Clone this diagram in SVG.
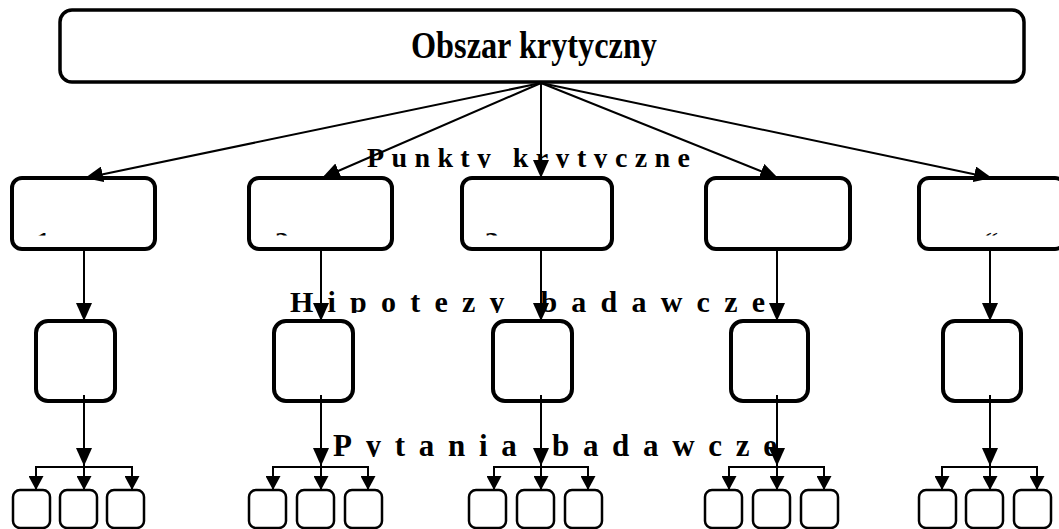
<svg xmlns="http://www.w3.org/2000/svg" width="1059" height="529" viewBox="0 0 1059 529">
<style>
.big{fill:#fff;stroke:#000;stroke-width:3.5}
.mid{fill:#fff;stroke:#000;stroke-width:4}
.sm{fill:#fff;stroke:#000;stroke-width:2.5}
.t{font-family:"Liberation Serif","Times New Roman",serif;font-weight:bold;fill:#000}
.c{stroke:#000;stroke-width:2;fill:none}
</style>
<defs>
<marker id="ah" markerUnits="userSpaceOnUse" markerWidth="19" markerHeight="16" refX="18" refY="8" orient="auto"><path d="M0,0 L18,8 L0,16 z" fill="#000"/></marker>
<marker id="as" markerUnits="userSpaceOnUse" markerWidth="15" markerHeight="15" refX="14" refY="7.5" orient="auto"><path d="M0,0 L14,7.5 L0,15 z" fill="#000"/></marker>
<clipPath id="cl1"><rect x="0" y="0" width="1059" height="168"/></clipPath>
<clipPath id="cl2"><rect x="0" y="0" width="1059" height="313"/></clipPath>
<clipPath id="cl3"><rect x="0" y="0" width="1059" height="457"/></clipPath>
<clipPath id="cln"><rect x="0" y="0" width="1059" height="235.5"/></clipPath>
</defs>

<g id="root">
<rect class="big" x="60" y="10" width="964" height="72" rx="12"/>
<text class="t" x="411" y="58" font-size="37" textLength="246" lengthAdjust="spacingAndGlyphs">Obszar krytyczny</text>
</g>

<g id="labels">
<text class="t" x="367" y="167" font-size="28" textLength="323" lengthAdjust="spacing" clip-path="url(#cl1)">Punkty krytyczne</text>
<text class="t" x="290" y="312" font-size="30" textLength="475" lengthAdjust="spacing" clip-path="url(#cl2)">Hipotezy badawcze</text>
<text class="t" x="333" y="456" font-size="31" textLength="444" lengthAdjust="spacing" clip-path="url(#cl3)">Pytania badawcze</text>
</g>

<g id="p1"><rect class="mid" x="12" y="178" width="143" height="71" rx="10"/><text class="t" x="36" y="251" font-size="28" clip-path="url(#cln)">1</text></g>
<g id="p2"><rect class="mid" x="249" y="178" width="143" height="71" rx="10"/><text class="t" x="275" y="251" font-size="28" clip-path="url(#cln)">2</text></g>
<g id="p3"><rect class="mid" x="462" y="178" width="150" height="71" rx="10"/><text class="t" x="485" y="251" font-size="28" clip-path="url(#cln)">3</text></g>
<g id="p4"><rect class="mid" x="706" y="178" width="144" height="71" rx="10"/></g>
<g id="p5"><rect class="mid" x="919" y="178" width="146" height="71" rx="10"/><text class="t" x="984" y="251" font-size="28" clip-path="url(#cln)">“</text></g>

<g id="h1"><rect class="mid" x="36" y="321" width="79" height="80" rx="12"/></g>
<g id="h2"><rect class="mid" x="274" y="321" width="79" height="80" rx="12"/></g>
<g id="h3"><rect class="mid" x="493" y="321" width="79" height="80" rx="12"/></g>
<g id="h4"><rect class="mid" x="731" y="321" width="77" height="80" rx="12"/></g>
<g id="h5"><rect class="mid" x="943" y="321" width="78" height="80" rx="12"/></g>

<g id="q1"><rect class="sm" x="13" y="490" width="37" height="38" rx="7"/><rect class="sm" x="60" y="490" width="37" height="38" rx="7"/><rect class="sm" x="107" y="490" width="37" height="38" rx="7"/></g>
<g id="q2"><rect class="sm" x="249" y="490" width="37" height="38" rx="7"/><rect class="sm" x="297" y="490" width="37" height="38" rx="7"/><rect class="sm" x="345" y="490" width="37" height="38" rx="7"/></g>
<g id="q3"><rect class="sm" x="469" y="490" width="37" height="38" rx="7"/><rect class="sm" x="517" y="490" width="37" height="38" rx="7"/><rect class="sm" x="565" y="490" width="37" height="38" rx="7"/></g>
<g id="q4"><rect class="sm" x="705" y="490" width="37" height="38" rx="7"/><rect class="sm" x="753" y="490" width="37" height="38" rx="7"/><rect class="sm" x="801" y="490" width="37" height="38" rx="7"/></g>
<g id="q5"><rect class="sm" x="919" y="490" width="37" height="38" rx="7"/><rect class="sm" x="966" y="490" width="37" height="38" rx="7"/><rect class="sm" x="1014" y="490" width="37" height="38" rx="7"/></g>

<g id="connectors" class="c">
<line x1="541" y1="83" x2="85" y2="178" marker-end="url(#ah)"/>
<line x1="541" y1="83" x2="322" y2="178" marker-end="url(#ah)"/>
<line x1="541" y1="83" x2="541" y2="178" marker-end="url(#ah)"/>
<line x1="541" y1="83" x2="778" y2="178" marker-end="url(#ah)"/>
<line x1="541" y1="83" x2="992" y2="178" marker-end="url(#ah)"/>

<line x1="84" y1="249" x2="84" y2="321" marker-end="url(#ah)"/>
<line x1="321" y1="249" x2="321" y2="321" marker-end="url(#ah)"/>
<line x1="541" y1="249" x2="541" y2="321" marker-end="url(#ah)"/>
<line x1="777" y1="249" x2="777" y2="321" marker-end="url(#ah)"/>
<line x1="990" y1="249" x2="990" y2="321" marker-end="url(#ah)"/>

<line x1="84" y1="395" x2="84" y2="466" marker-end="url(#ah)"/>
<line x1="321" y1="395" x2="321" y2="466" marker-end="url(#ah)"/>
<line x1="541" y1="395" x2="541" y2="466" marker-end="url(#ah)"/>
<line x1="777" y1="395" x2="777" y2="466" marker-end="url(#ah)"/>
<line x1="990" y1="395" x2="990" y2="466" marker-end="url(#ah)"/>

<path d="M36,490 V467 H132 V490 M84,467 V490"/>
<path d="M273,490 V467 H368 V490 M321,467 V490"/>
<path d="M494,490 V467 H588 V490 M541,467 V490"/>
<path d="M729,490 V467 H824 V490 M777,467 V490"/>
<path d="M942,490 V467 H1037 V490 M990,467 V490"/>
<line x1="36" y1="467" x2="36" y2="490" marker-end="url(#as)"/>
<line x1="84" y1="467" x2="84" y2="490" marker-end="url(#as)"/>
<line x1="132" y1="467" x2="132" y2="490" marker-end="url(#as)"/>
<line x1="273" y1="467" x2="273" y2="490" marker-end="url(#as)"/>
<line x1="321" y1="467" x2="321" y2="490" marker-end="url(#as)"/>
<line x1="368" y1="467" x2="368" y2="490" marker-end="url(#as)"/>
<line x1="494" y1="467" x2="494" y2="490" marker-end="url(#as)"/>
<line x1="541" y1="467" x2="541" y2="490" marker-end="url(#as)"/>
<line x1="588" y1="467" x2="588" y2="490" marker-end="url(#as)"/>
<line x1="729" y1="467" x2="729" y2="490" marker-end="url(#as)"/>
<line x1="777" y1="467" x2="777" y2="490" marker-end="url(#as)"/>
<line x1="824" y1="467" x2="824" y2="490" marker-end="url(#as)"/>
<line x1="942" y1="467" x2="942" y2="490" marker-end="url(#as)"/>
<line x1="990" y1="467" x2="990" y2="490" marker-end="url(#as)"/>
<line x1="1037" y1="467" x2="1037" y2="490" marker-end="url(#as)"/>
</g>
</svg>
